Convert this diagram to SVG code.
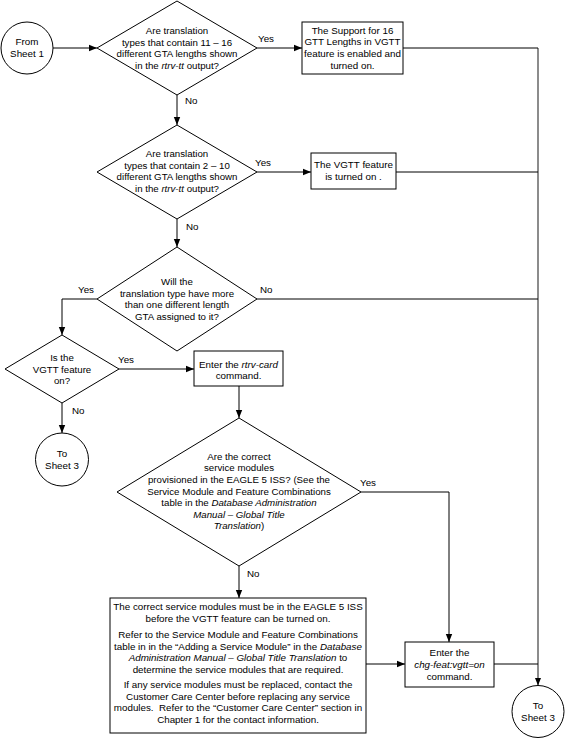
<svg xmlns="http://www.w3.org/2000/svg" width="565" height="740" viewBox="0 0 565 740">
<style>
  text { font-family: "Liberation Sans", Arial, sans-serif; font-size: 9.8px; fill: #000; }
  .c { text-anchor: middle; }
  .d { font-size: 9.7px; }
  .i { font-style: italic; }
  .shape { fill: #fff; stroke: #000; stroke-width: 1; }
  .ln { fill: none; stroke: #000; stroke-width: 1; }
  .gray { fill: none; stroke: #8c8c8c; stroke-width: 2; }
</style>
<defs>
  <marker id="arr" viewBox="0 0 10 10" refX="10" refY="5" markerWidth="8" markerHeight="8" markerUnits="userSpaceOnUse" orient="auto">
    <path d="M0,1 L10,5 L0,9 z" fill="#000"/>
  </marker>
</defs>
<rect width="565" height="740" fill="#fff"/>

<g id="connectors">
  <path class="gray" d="M538,48 V685.5" marker-end="url(#arr)"/>
  <path class="ln" d="M53,48 H97" marker-end="url(#arr)"/>
  <path class="ln" d="M257,48 H302" marker-end="url(#arr)"/>
  <path class="ln" d="M403,48 H538"/>
  <path class="ln" d="M177,95 V125" marker-end="url(#arr)"/>
  <path class="ln" d="M257,172 H311" marker-end="url(#arr)"/>
  <path class="ln" d="M396,172 H538"/>
  <path class="ln" d="M177,219 V247" marker-end="url(#arr)"/>
  <path class="ln" d="M97,299 H62 V335" marker-end="url(#arr)"/>
  <path class="ln" d="M257,299 H538"/>
  <path class="ln" d="M119,369 H194" marker-end="url(#arr)"/>
  <path class="ln" d="M62,403 V433" marker-end="url(#arr)"/>
  <path class="ln" d="M239,386 V418" marker-end="url(#arr)"/>
  <path class="ln" d="M361,492 H449 V642" marker-end="url(#arr)"/>
  <path class="ln" d="M239,566 V598" marker-end="url(#arr)"/>
  <path class="ln" d="M366,664 H405" marker-end="url(#arr)"/>
  <path class="ln" d="M494,664 H538"/>
  <text x="258" y="42">Yes</text>
  <text x="185" y="104">No</text>
  <text x="255" y="166">Yes</text>
  <text x="186" y="230">No</text>
  <text x="94" y="293" text-anchor="end">Yes</text>
  <text x="260" y="293">No</text>
  <text x="118" y="363">Yes</text>
  <text x="72" y="414">No</text>
  <text x="360" y="486">Yes</text>
  <text x="247" y="577">No</text>
</g>

<g id="from-sheet1">
  <circle class="shape" cx="27" cy="48" r="26"/>
  <text class="c" x="27" y="45">From</text>
  <text class="c" x="27" y="57">Sheet 1</text>
</g>

<g id="q-11-16">
  <polygon class="shape" points="177,1 257,48 177,95 97,48"/>
  <text class="c d" x="177" y="34">Are translation</text>
  <text class="c d" x="177" y="45.5">types that contain 11 – 16</text>
  <text class="c d" x="177" y="57">different GTA lengths shown</text>
  <text class="c d" x="177" y="68.5">in the <tspan class="i">rtrv-tt</tspan> output?</text>
</g>

<g id="box-16gtt">
  <rect class="shape" x="302" y="22" width="101" height="52"/>
  <text class="c" x="352.5" y="33.5">The Support for 16</text>
  <text class="c" x="352.5" y="45">GTT Lengths in VGTT</text>
  <text class="c" x="352.5" y="57">feature is enabled and</text>
  <text class="c" x="352.5" y="68.5">turned on.</text>
</g>

<g id="q-2-10">
  <polygon class="shape" points="177,125 257,172 177,219 97,172"/>
  <text class="c d" x="177" y="157">Are translation</text>
  <text class="c d" x="177" y="168.5">types that contain 2 – 10</text>
  <text class="c d" x="177" y="180">different GTA lengths shown</text>
  <text class="c d" x="177" y="191.5">in the <tspan class="i">rtrv-tt</tspan> output?</text>
</g>

<g id="box-vgtt-on">
  <rect class="shape" x="311" y="153" width="85" height="36"/>
  <text class="c" x="353.5" y="167.5">The VGTT feature</text>
  <text class="c" x="353.5" y="179.5">is turned on .</text>
</g>

<g id="q-more-than-one">
  <polygon class="shape" points="177,247 257,299 177,351 97,299"/>
  <text class="c d" x="177" y="285">Will the</text>
  <text class="c d" x="177" y="296.5">translation type have more</text>
  <text class="c d" x="177" y="308">than one different length</text>
  <text class="c d" x="177" y="319.5">GTA assigned to it?</text>
</g>

<g id="q-vgtt-on">
  <polygon class="shape" points="62,335 119,369 62,403 5,369"/>
  <text class="c d" x="62" y="360.5">Is the</text>
  <text class="c d" x="62" y="372.5">VGTT feature</text>
  <text class="c d" x="62" y="384">on?</text>
</g>

<g id="to-sheet3-left">
  <circle class="shape" cx="62" cy="459.5" r="26.5"/>
  <text class="c" x="62" y="456.5">To</text>
  <text class="c" x="62" y="468.5">Sheet 3</text>
</g>

<g id="box-rtrv-card">
  <rect class="shape" x="194" y="351" width="89" height="35"/>
  <text class="c" x="238.5" y="367.5">Enter the <tspan class="i">rtrv-card</tspan></text>
  <text class="c" x="238.5" y="379">command.</text>
</g>

<g id="q-service-modules">
  <polygon class="shape" points="239,418 361,492 239,566 117,492"/>
  <text class="c d" x="239" y="459.5">Are the correct</text>
  <text class="c d" x="239" y="471.2">service modules</text>
  <text class="c d" x="239" y="482.8">provisioned in the EAGLE 5 ISS? (See the</text>
  <text class="c d" x="239" y="494.5">Service Module and Feature Combinations</text>
  <text class="c d" x="239" y="506.1">table in the <tspan class="i">Database Administration</tspan></text>
  <text class="c d i" x="239" y="517.8">Manual – Global Title</text>
  <text class="c d" x="239" y="529.4"><tspan class="i">Translation</tspan>)</text>
</g>

<g id="box-correct-modules">
  <rect class="shape" x="110" y="598" width="256" height="135"/>
  <text class="c" x="238" y="610.2">The correct service modules must be in the EAGLE 5 ISS</text>
  <text class="c" x="238" y="621.8">before the VGTT feature can be turned on.</text>
  <text class="c" x="238" y="637.8">Refer to the Service Module and Feature Combinations</text>
  <text class="c" x="238" y="649.5">table in in the “Adding a Service Module” in the <tspan class="i">Database</tspan></text>
  <text class="c" x="238" y="661.2"><tspan class="i">Administration Manual – Global Title Translation</tspan> to</text>
  <text class="c" x="238" y="672.8">determine the service modules that are required.</text>
  <text class="c" x="238" y="687.8">If any service modules must be replaced, contact the</text>
  <text class="c" x="238" y="699.5">Customer Care Center before replacing any service</text>
  <text class="c" x="238" y="711.2">modules.&#160; Refer to the “Customer Care Center” section in</text>
  <text class="c" x="238" y="722.8">Chapter 1 for the contact information.</text>
</g>

<g id="box-chg-feat">
  <rect class="shape" x="405" y="642" width="89" height="45"/>
  <text class="c" x="449.5" y="655.5">Enter the</text>
  <text class="c i" x="449.5" y="667.5">chg-feat:vgtt=on</text>
  <text class="c" x="449.5" y="679.5">command.</text>
</g>

<g id="to-sheet3-right">
  <circle class="shape" cx="538" cy="711.5" r="26"/>
  <text class="c" x="538" y="709">To</text>
  <text class="c" x="538" y="721">Sheet 3</text>
</g>
</svg>
